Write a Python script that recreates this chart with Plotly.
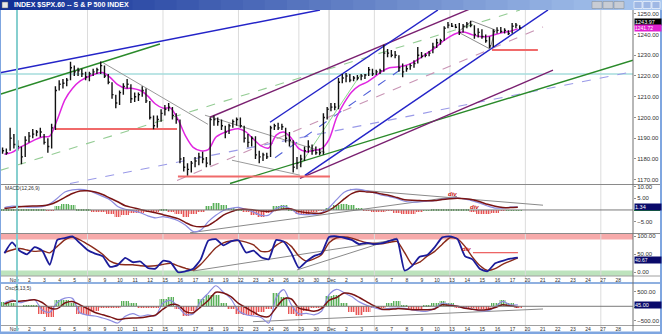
import plotly.graph_objects as go

# ---------------- data ----------------
day_labels = ["Nov", "2", "3", "4", "5", "8", "9", "10", "11", "12", "15", "16", "17", "18", "19",
              "22", "23", "24", "26", "29", "30", "Dec", "2", "3", "6", "7", "8", "9", "10", "13",
              "14", "15", "16", "17", "20", "21", "22", "23", "24", "27", "28", "29"]
monday_idx = [5, 10, 15, 19, 24, 29, 34, 39]
month_idx = [21]

bar_high = [1185.5, 1185, 1195, 1192, 1189, 1186, 1191, 1193, 1194.5, 1194, 1195, 1192, 1190, 1197,
            1215, 1218, 1218.5, 1219, 1226.8, 1225, 1224, 1223.5, 1222, 1222, 1223.5, 1224, 1227, 1225,
            1221, 1217, 1211, 1213, 1216.5, 1218.5, 1216, 1212, 1212, 1215, 1214, 1208, 1201, 1201,
            1204, 1206, 1207, 1205, 1202, 1199, 1181, 1178, 1179, 1181, 1183, 1183.5, 1181, 1200,
            1201, 1200, 1199, 1196, 1197, 1199, 1200, 1200, 1196, 1192, 1191, 1191, 1184, 1183,
            1183, 1196, 1197, 1197.5, 1197, 1195, 1193, 1189, 1181, 1182, 1186, 1189, 1187, 1186,
            1185, 1202, 1205, 1207, 1207, 1219, 1221, 1221.4, 1221, 1220, 1220.5, 1221, 1221, 1224.3,
            1223.5, 1223, 1223.5, 1235, 1233, 1232.5, 1232, 1230, 1226, 1225, 1226, 1227.6, 1234,
            1231.5, 1231, 1232, 1236, 1238, 1238, 1244, 1246, 1245.5, 1245, 1245.5, 1245, 1246,
            1246.6, 1244.5, 1243, 1242.5, 1240, 1239, 1242.5, 1243.5, 1243.6, 1243, 1242, 1245.5,
            1245.5, 1244.5]
bar_low = [1182.5, 1182, 1184, 1185, 1184, 1177.5, 1181, 1188, 1190, 1191, 1190.5, 1187, 1183, 1185,
           1194, 1213, 1214, 1215, 1218, 1220, 1220, 1219.5, 1218, 1217.5, 1220, 1221, 1221, 1219,
           1216, 1209, 1204.5, 1206, 1211, 1214, 1207, 1207.5, 1208, 1210, 1207, 1199, 1194.3, 1195,
           1198, 1201, 1203, 1199, 1197, 1178, 1174, 1172, 1173.5, 1176, 1177, 1178, 1176, 1177,
           1196, 1196, 1194, 1190, 1192, 1195, 1196, 1195, 1188, 1185.6, 1186, 1180, 1178, 1179,
           1180, 1181, 1194, 1194, 1194, 1188, 1186, 1173.5, 1175, 1176, 1179, 1183, 1182, 1182,
           1181.8, 1182, 1199, 1203, 1203.5, 1204, 1216.5, 1217, 1217, 1217.5, 1218, 1218, 1218.5,
           1220, 1220, 1220.5, 1221, 1222, 1229, 1229, 1228.6, 1222, 1219.4, 1222, 1223, 1224, 1226,
           1228.6, 1229, 1229.5, 1231, 1233.5, 1235, 1237, 1243, 1243.6, 1243, 1239.7, 1241, 1243,
           1243.5, 1238, 1238.5, 1238, 1236, 1233.4, 1234, 1240.5, 1240.7, 1240.5, 1239.7, 1240.5,
           1243, 1242.5]
bar_close = [1184, 1183, 1190, 1187, 1186, 1181, 1189, 1191, 1192, 1193, 1193, 1188, 1186, 1195,
             1213, 1216, 1216.5, 1218, 1224, 1222, 1222.5, 1221, 1219.5, 1221, 1222, 1223, 1225, 1220,
             1217, 1211, 1207, 1212, 1215, 1216, 1209, 1210, 1211, 1213, 1208, 1200, 1196, 1199,
             1202, 1204, 1205, 1201, 1199, 1180, 1176, 1175, 1178, 1179, 1181, 1180, 1178, 1199,
             1199, 1198, 1196, 1193, 1196, 1198, 1199, 1196, 1190, 1188, 1190, 1182, 1181, 1182,
             1181, 1195, 1196, 1195, 1195.5, 1190, 1189, 1176, 1178, 1180, 1184, 1186, 1184, 1183,
             1183, 1200, 1204, 1205, 1205, 1217, 1219, 1220, 1218, 1219, 1219, 1220, 1220.5, 1223,
             1221, 1222, 1222.5, 1231, 1231, 1230, 1230, 1224, 1222, 1223.5, 1225, 1226, 1230,
             1229.5, 1230, 1231, 1234, 1236, 1237, 1243, 1244.5, 1244, 1243.5, 1241, 1244, 1245,
             1244.5, 1240, 1241, 1239, 1237, 1234.5, 1241.5, 1242, 1241.5, 1242, 1240.5, 1244,
             1244.5, 1243.2]

ma_price = [1182.3, 1183.2, 1185.5, 1187.3, 1189.2, 1190.6, 1191, 1199, 1208.5, 1214,
            1217.5, 1219.5, 1221, 1221.7, 1219.3, 1215.8, 1214.1, 1214, 1213, 1210.3,
            1206.5, 1204.5, 1204.5, 1199, 1191, 1185.6, 1184, 1184.5, 1190.5, 1192.6,
            1194, 1194.6, 1193, 1189.5, 1186.3, 1185.3, 1191.5, 1193, 1190, 1185,
            1183.5, 1184.2, 1185, 1189.5, 1200, 1207, 1212.3, 1215.3, 1217, 1219.5,
            1222.2, 1224, 1224.3, 1224.9, 1226.3, 1228.5, 1231, 1233.4, 1236.5, 1239,
            1240.7, 1241.1, 1239.8, 1239, 1239, 1240, 1240.9, 1241.6, 1242.7]

macd_line = [1.0, 1.6, 1.5, 1.2, 1.2, 1.4, 2.6, 5.0, 7.7, 8.6,
             8.8, 8.4, 7.2, 5.8, 4.3, 1.5, 0.3, -0.3, -1.2, -2.5,
             -3.4, -2.8, -3.5, -4.6, -6.5, -9.2, -8.6, -5.0, -2.3, -0.2,
             0.7, 1.1, 0.2, -0.9, -2.3, -2.2, 0.6, 1.5, 0.3, -1.8,
             -2.0, -2.0, -1.2, 1.0, 4.4, 7.6, 8.7, 8.8, 8.2, 7.3,
             6.3, 5.7, 4.9, 3.7, 3.4, 3.4, 3.8, 4.0, 4.6, 5.0,
             5.1, 4.6, 3.9, 2.9, 1.7, 0.8, 0.8, 1.2, 1.3]
macd_signal = [0.6, 1.0, 1.4, 1.6, 1.7, 1.8, 2.3, 3.6, 5.4, 7.0,
               8.1, 8.2, 7.7, 6.6, 5.0, 3.5, 1.8, 1.0, 0.2, -0.6,
               -1.2, -2.0, -2.8, -3.7, -5.4, -6.8, -7.2, -6.6, -4.6, -2.2,
               -0.8, 0.2, 0.3, 0.0, -0.4, -0.6, -0.1, 0.4, 0.4, -0.6,
               -1.2, -1.4, -1.4, -0.2, 2.0, 4.7, 7.0, 8.0, 7.7, 7.4,
               6.8, 6.2, 5.3, 4.4, 4.1, 4.0, 3.9, 4.0, 4.5, 4.8,
               5.0, 4.8, 4.4, 3.5, 2.4, 1.6, 1.1, 1.0, 1.2]
macd_hist = [0.2, 0.5, 0.3, 0.2, 0.2, 0.2, -0.2, 1.8, 2.9, 2.2,
             0.8, 0.4, -0.5, -0.5, -1.5, -2.8, -1.8, -1.0, -0.9, -0.8,
             -0.6, 0.3, -0.3, -1.6, -2.8, -1.5, -0.3, 1.8, 3.1, 2.4,
             0.9, 0.2, -0.8, -2.0, -2.7, -1.0, 1.8, 2.2, 0.3, -1.4,
             -2.0, -0.8, -0.2, 1.0, 2.5, 2.9, 2.4, 1.0, -0.2, -0.3,
             -0.3, -0.2, -1.0, -1.4, -1.3, -0.6, 0.1, 0.3, 0.4, 0.5,
             0.3, 0.2, -0.8, -1.3, -1.5, -1.1, -0.2, 0.1, 0.1]

stoch_k = [53, 83, 60, 50, 70, 60, 21, 90, 95, 100,
           81, 62, 52, 45, 15, 20, 40, 28, 30, 12,
           10, 32, 28, 0, 3, 10, 36, 88, 92, 75,
           86, 89, 55, 60, 42, 36, 90, 85, 54, 12,
           30, 45, 53, 98, 100, 96, 90, 78, 82, 78,
           81, 87, 92, 5, 18, 43, 48, 70, 97, 100,
           93, 45, 36, 9, 3, 25, 32, 38, 41]
stoch_d = [55, 62, 66, 62, 58, 60, 54, 72, 90, 98,
           90, 78, 65, 50, 31, 23, 21, 21, 18, 17,
           18, 22, 25, 18, 11, 6, 22, 45, 68, 82,
           87, 88, 84, 76, 58, 58, 75, 86, 72, 45,
           31, 37, 49, 82, 96, 98, 95, 88, 82, 80,
           79, 83, 86, 55, 22, 28, 45, 58, 78, 96,
           93, 72, 42, 18, 5, 10, 22, 31, 40]

osc_line = [120, 215, 120, 190, 225, -130, -200, 130, 280, 270,
            -220, -300, -330, -400, -480, -570, -340, -250, -340, -290,
            -320, 110, 200, -20, -280, -260, 180, 450, 700, 480,
            250, -150, -290, -330, -380, -570, 300, 570, 50, -260,
            -240, -290, -170, 400, 580, 460, 330, 150, 30, -50,
            -115, -70, -60, -70, -120, -160, -170, -70, 110, 60,
            0, -50, -100, -150, -150, -20, 170, 50, 45]
osc_signal = [80, 175, 170, 200, 220, 130, -60, -80, 110, 160,
              50, -80, -210, -290, -360, -450, -420, -400, -390, -350,
              -300, -100, 50, 40, -180, -220, -20, 200, 480, 450,
              330, 100, -50, -200, -330, -350, -40, 250, 250, -60,
              -120, -170, -80, 200, 300, 450, 420, 300, 150, 10,
              -100, -110, -80, -90, -115, -115, -120, -90, 50, 30,
              0, -70, -100, -130, -110, -40, 50, 10, -20]
osc_hist = [150, 100, 0, 55, 55, -250, -380, 200, 220, 100,
            -250, -280, -150, -60, -60, -60, 170, 100, -55, -55,
            -30, 250, 320, -100, -340, -150, 250, 380, 380, 100,
            -100, -250, -290, -290, -200, -100, 450, 300, -250, -340,
            -150, -60, -30, 350, 400, 100, -200, -290, -200, -60,
            -30, 120, 170, 20, -115, -100, 30, 100, 170, 100,
            -40, -60, -60, -100, -140, 100, 230, 120, -50]

# trend lines (day, price, day, price)
tl_blue = [(-0.79, 1221.5, 20.4, 1251.8), (17.09, 1197.7, 28.21, 1251.8), (19.4, 1172.1, 35.5, 1251.8)]
tl_green = [(-0.79, 1211.2, 9.8, 1235.4), (14.44, 1168.2, 41.13, 1227.6)]
tl_purple = [(13.11, 1200.1, 30.33, 1252.3), (19.07, 1170.6, 35.83, 1222.8)]
tl_grey = [(5.96, 1226.7, 12.98, 1196.7), (12.78, 1201.1, 20.73, 1183.2), (14.57, 1179.4, 19.07, 1172.2)]
tl_green_dash = [(-0.79, 1174.5, 33.64, 1251.8)]
tl_mauve_dash = [(10.93, 1169.6, 35.17, 1243.6)]
tl_lav_dash = [(3.84, 1168.2, 40.93, 1221.8)]
tl_blue_dash = [(17.42, 1180.6, 26.03, 1224.6)]
tl_lightgreen = [(19.07, 1176.9, 23.05, 1220.3)]
support_red = [(2.85, 10.93, 1194.5), (10.99, 21.06, 1171.6), (31.79, 34.83, 1232.5)]
flag_day = [29.54, 30.46, 32.0, 31.66, 29.54]
flag_price = [1241.2, 1246.5, 1242.2, 1233.0, 1241.2]
level_cyan = 1220.9
cursor_day = 0.33

macd_tl = [(11.79, -9.74, 29.47, 5.78), (22.38, 8.79, 35.17, 2.03)]
stoch_tl = [(11.99, 3.6, 25.36, 90), (18.87, 6.4, 25.5, 95.3)]
stoch_red = (30.53, 33.51, 54.4)
osc_tl = [(15.96, -525, 35.17, -92)]

# ---------------- layout helpers ----------------
W, H = 662, 334


def py(p):
    return 1 - p / H


X_END = 633 / W
XR = [-0.795, 41.13]

bar_x = [-0.625 + 0.25 * i for i in range(len(bar_close))]
ind_x = [-0.5 + 0.5 * k for k in range(len(ma_price))]

fig = go.Figure()


def seg_trace(lines, color, width=1.2, dash='solid', xa='x', ya='y'):
    xs, ys = [], []
    for (a, b, c, d) in lines:
        xs += [a, c, None]
        ys += [b, d, None]
    fig.add_trace(go.Scatter(x=xs, y=ys, mode='lines', xaxis=xa, yaxis=ya,
                             line=dict(color=color, width=width, dash=dash),
                             hoverinfo='skip', showlegend=False))


# price panel trend lines
seg_trace(tl_lav_dash, '#9a9ae8', 1.1, 'dash')
seg_trace(tl_green_dash, '#94cc94', 1.1, 'dash')
seg_trace(tl_mauve_dash, '#c894b4', 1.1, 'dash')
seg_trace(tl_blue_dash, '#5060d8', 1.1, 'dash')
seg_trace(tl_lightgreen, '#8fd88f', 1.0)
seg_trace(tl_grey, '#9a9a9a', 1.0)
seg_trace(tl_green, '#2a8a2a', 1.4)
seg_trace(tl_purple, '#7a2070', 1.4)
seg_trace(tl_blue, '#2424c8', 1.5)
seg_trace([(a, c, b, c) for (a, b, c) in support_red], '#f06a6a', 2.0)
fig.add_trace(go.Scatter(x=flag_day, y=flag_price, mode='lines', line=dict(color='#8a8a8a', width=1),
                         hoverinfo='skip', showlegend=False))

# moving average
fig.add_trace(go.Scatter(x=ind_x, y=ma_price, mode='lines', line=dict(color='#e026e0', width=1.5, shape='spline', smoothing=0.8),
                         hoverinfo='skip', showlegend=False))

# price bars
bx, by = [], []
for x, h, l, c in zip(bar_x, bar_high, bar_low, bar_close):
    bx += [x, x, None, x, x + 0.1, None]
    by += [l, h, None, c, c, None]
fig.add_trace(go.Scatter(x=bx, y=by, mode='lines', line=dict(color='#111111', width=1.4),
                         hoverinfo='skip', showlegend=False))

GREEN = '#2a9a2a'
RED = '#e02424'


def hist_trace(vals, xa, ya):
    cols = [GREEN if v >= 0 else RED for v in vals]
    fig.add_trace(go.Bar(x=ind_x, y=vals, width=0.5, xaxis=xa, yaxis=ya,
                         marker=dict(color=cols, line=dict(width=0),
                                     pattern=dict(shape='|', fgcolor=cols, bgcolor='rgba(255,255,255,0)',
                                                  size=2.5, solidity=0.5, fillmode='replace')),
                         hoverinfo='skip', showlegend=False))


# MACD panel
hist_trace(macd_hist, 'x2', 'y2')
seg_trace(macd_tl, '#8a8a8a', 1.0, xa='x2', ya='y2')
fig.add_trace(go.Scatter(x=ind_x, y=macd_line, mode='lines', xaxis='x2', yaxis='y2',
                         line=dict(color='#8c8ce0', width=1.2, shape='spline', smoothing=0.8),
                         hoverinfo='skip', showlegend=False))
fig.add_trace(go.Scatter(x=ind_x, y=macd_signal, mode='lines', xaxis='x2', yaxis='y2',
                         line=dict(color='#7a1414', width=1.5, shape='spline', smoothing=0.8),
                         hoverinfo='skip', showlegend=False))

# Stochastic panel
seg_trace(stoch_tl, '#8a8a8a', 1.0, xa='x3', ya='y3')
seg_trace([(stoch_red[0], stoch_red[2], stoch_red[1], stoch_red[2])], '#e83a3a', 1.0, xa='x3', ya='y3')
fig.add_trace(go.Scatter(x=ind_x, y=stoch_d, mode='lines', xaxis='x3', yaxis='y3',
                         line=dict(color='#8a2a1a', width=1.4, shape='spline', smoothing=0.6),
                         hoverinfo='skip', showlegend=False))
fig.add_trace(go.Scatter(x=ind_x, y=stoch_k, mode='lines', xaxis='x3', yaxis='y3',
                         line=dict(color='#1c1c9a', width=1.8, shape='spline', smoothing=0.5),
                         hoverinfo='skip', showlegend=False))

# Oscillator panel
hist_trace(osc_hist, 'x4', 'y4')
seg_trace(osc_tl, '#8a8a8a', 1.0, xa='x4', ya='y4')
fig.add_trace(go.Scatter(x=ind_x, y=osc_line, mode='lines', xaxis='x4', yaxis='y4',
                         line=dict(color='#8c8ce0', width=1.2, shape='spline', smoothing=0.8),
                         hoverinfo='skip', showlegend=False))
fig.add_trace(go.Scatter(x=ind_x, y=osc_signal, mode='lines', xaxis='x4', yaxis='y4',
                         line=dict(color='#7a1414', width=1.5, shape='spline', smoothing=0.8),
                         hoverinfo='skip', showlegend=False))

# ---------------- shapes ----------------
shapes = []
# title bar gradient
n = 30
for j in range(n):
    t = j / (n - 1)
    r = int(18 + t * (170 - 18)); g = int(48 + t * (200 - 48)); b = int(150 + t * (240 - 150))
    shapes.append(dict(type='rect', xref='paper', yref='paper', x0=j / n, x1=(j + 1) / n + 0.002,
                       y0=py(10), y1=1, fillcolor=f'rgb({r},{g},{b})', line_width=0))
shapes.append(dict(type='rect', xref='paper', yref='paper', x0=2 / W, x1=8 / W, y0=py(8), y1=py(2),
                   fillcolor='#e8e8e8', line=dict(color='#606060', width=0.5)))
for x0 in [592, 603, 614]:
    shapes.append(dict(type='rect', xref='paper', yref='paper', x0=x0 / W, x1=(x0 + 10) / W, y0=py(8.5), y1=py(1.5),
                       fillcolor='#c8ccd4', line=dict(color='#808890', width=0.5)))
for x0 in [634, 643, 652]:
    shapes.append(dict(type='rect', xref='paper', yref='paper', x0=x0 / W, x1=(x0 + 8) / W, y0=py(8.5), y1=py(1.5),
                       fillcolor='#9fb8e4', line=dict(color='#ffffff', width=0.6)))

# stochastic bands
shapes.append(dict(type='rect', xref='paper', yref='y3', x0=0, x1=X_END, y0=91, y1=107.8,
                   fillcolor='#f6aaaa', line_width=0, layer='below'))
shapes.append(dict(type='rect', xref='paper', yref='y3', x0=0, x1=X_END, y0=-10.3, y1=5,
                   fillcolor='#bde3bd', line_width=0, layer='below'))
# vertical grid at week starts and month start
for d in monday_idx:
    shapes.append(dict(type='line', xref='x', yref='paper', x0=d, x1=d, y0=py(331), y1=py(10),
                       line=dict(color='#dcdcdc', width=1), layer='below'))
for d in month_idx:
    shapes.append(dict(type='line', xref='x', yref='paper', x0=d, x1=d, y0=py(331), y1=py(10),
                       line=dict(color='#c4c4c4', width=1), layer='below'))
# cyan level & cursor
shapes.append(dict(type='line', xref='paper', yref='y', x0=0, x1=X_END, y0=level_cyan, y1=level_cyan,
                   line=dict(color='#a6dcdc', width=1.5), layer='below'))
shapes.append(dict(type='line', xref='x', yref='paper', x0=cursor_day, x1=cursor_day, y0=py(331), y1=py(10),
                   line=dict(color='#86cfcf', width=2)))
# zero lines
shapes.append(dict(type='line', xref='paper', yref='y2', x0=0, x1=X_END, y0=0, y1=0,
                   line=dict(color='#7a7a7a', width=1)))
shapes.append(dict(type='line', xref='paper', yref='y4', x0=0, x1=X_END, y0=0, y1=0,
                   line=dict(color='#7a7a7a', width=1)))
# panel separators
for yy, col, wd in [(184.5, '#8a8a8a', 1.2), (233.5, '#8a8a8a', 1.2), (276, '#a0a0a0', 1),
                    (283, '#8fb0e0', 2), (325.5, '#a0a0a0', 1)]:
    shapes.append(dict(type='line', xref='paper', yref='paper', x0=0, x1=1, y0=py(yy), y1=py(yy),
                       line=dict(color=col, width=wd)))
shapes.append(dict(type='line', xref='paper', yref='paper', x0=X_END, x1=X_END, y0=py(331), y1=py(10),
                   line=dict(color='#707070', width=1)))
shapes.append(dict(type='rect', xref='paper', yref='paper', x0=0, x1=1, y0=0, y1=py(331.5),
                   fillcolor='#7fa6e0', line_width=0))
shapes.append(dict(type='line', xref='paper', yref='paper', x0=0.5 / W, x1=0.5 / W, y0=0, y1=py(10),
                   line=dict(color='#7fa6e0', width=1)))
shapes.append(dict(type='line', xref='paper', yref='paper', x0=1 - 1 / W, x1=1 - 1 / W, y0=0, y1=py(10),
                   line=dict(color='#7fa6e0', width=2)))
# small green markers under value boxes
shapes.append(dict(type='rect', xref='paper', yref='y2', x0=634 / W, x1=660 / W, y0=-0.4, y1=0.2,
                   fillcolor='#1f9a1f', line_width=0))
shapes.append(dict(type='rect', xref='paper', yref='y4', x0=634 / W, x1=660 / W, y0=-55, y1=-25,
                   fillcolor='#1f9a1f', line_width=0))

# ---------------- annotations ----------------
ann = []
ann.append(dict(xref='paper', yref='paper', x=12 / W, y=py(5), xanchor='left', yanchor='middle',
                text='<b>INDEX $SPX.60 -- S &amp; P 500 INDEX</b>', showarrow=False,
                font=dict(family='Liberation Sans', size=7, color='white')))
ann.append(dict(xref='paper', yref='paper', x=3 / W, y=py(187.5), xanchor='left', yanchor='middle',
                text='MACD(12,26,9)', showarrow=False, font=dict(family='Liberation Sans', size=5, color='#333')))
ann.append(dict(xref='paper', yref='paper', x=3 / W, y=py(287.5), xanchor='left', yanchor='middle',
                text='Osc(5,13,5)', showarrow=False, font=dict(family='Liberation Sans', size=5, color='#333')))


def box(yref, yv, text, bg, size=5.5):
    ann.append(dict(xref='paper', yref=yref, x=634 / W, y=yv, xanchor='left', yanchor='middle', text=text,
                    showarrow=False, bgcolor=bg, borderpad=0, width=26, align='left',
                    font=dict(family='Liberation Sans', size=size, color='white')))


box('y', 1246.2, '1243.97', '#000000')
box('y', 1243.3, '1241.72', '#e020d0', 5)
box('y2', 1.34, '1.34', '#0a0a6a')
box('y3', 33.5, '40.67', '#0a0a6a', 5)
box('y4', 45, '45.00', '#0a0a6a')


def div_label(xref, yref, xv, yv):
    ann.append(dict(xref=xref, yref=yref, x=xv, y=yv, text='<b><i>div</i></b>', showarrow=False,
                    font=dict(family='Liberation Sans', size=6, color='#c81010')))


div_label('x2', 'y2', 29.2, 7.0)
div_label('x2', 'y2', 30.66, 1.2)
div_label('x3', 'y3', 30.13, 65)

# ---------------- axes ----------------
tick_font = dict(family='Liberation Sans', size=6, color='#303030')
date_font = dict(family='Liberation Sans', size=5, color='#303030')
xbase = dict(range=XR, domain=[0, X_END], showgrid=False, zeroline=False, showline=False, fixedrange=True)
date_ticks = dict(tickmode='array', tickvals=[i + 0.15 for i in range(len(day_labels))], ticktext=day_labels,
                  tickfont=date_font, ticks='', ticklabelstandoff=0)

layout = dict(
    width=W, height=H, margin=dict(l=0, r=0, t=0, b=0), autosize=False,
    paper_bgcolor='white', plot_bgcolor='white', showlegend=False, hovermode=False,
    barmode='overlay', bargap=0,
    xaxis=dict(xbase, anchor='y', showticklabels=False),
    xaxis2=dict(xbase, anchor='y2', showticklabels=False),
    xaxis3=dict(xbase, anchor='y3', **date_ticks),
    xaxis4=dict(xbase, anchor='y4', **date_ticks),
    yaxis=dict(domain=[py(184.5), py(10)], range=[1167.7, 1251.8], anchor='x', side='right',
               tickmode='array', tickvals=list(range(1170, 1260, 10)), tickformat='.2f',
               tickfont=tick_font, showgrid=False, zeroline=False, ticks='outside', ticklen=2, tickcolor='#909090'),
    yaxis2=dict(domain=[py(233.5), py(184.5)], range=[-10.04, 10.86], anchor='x2', side='right',
                tickmode='array', tickvals=[-5, 5, 10], tickformat='.2f',
                tickfont=tick_font, showgrid=False, zeroline=False, ticks='outside', ticklen=2, tickcolor='#909090'),
    yaxis3=dict(domain=[py(276), py(233.5)], range=[-10.3, 107.8], anchor='x3', side='right',
                tickmode='array', tickvals=[0, 50, 100], tickformat='.2f',
                tickfont=tick_font, showgrid=False, zeroline=False, ticks='outside', ticklen=2, tickcolor='#909090'),
    yaxis4=dict(domain=[py(325), py(284)], range=[-638, 760], anchor='x4', side='right',
                tickmode='array', tickvals=[-500, 500], tickformat='.2f',
                tickfont=tick_font, showgrid=False, zeroline=False, ticks='outside', ticklen=2, tickcolor='#909090'),
    shapes=shapes, annotations=ann,
)
fig.update_layout(**layout)
fig.write_html('out.html')
